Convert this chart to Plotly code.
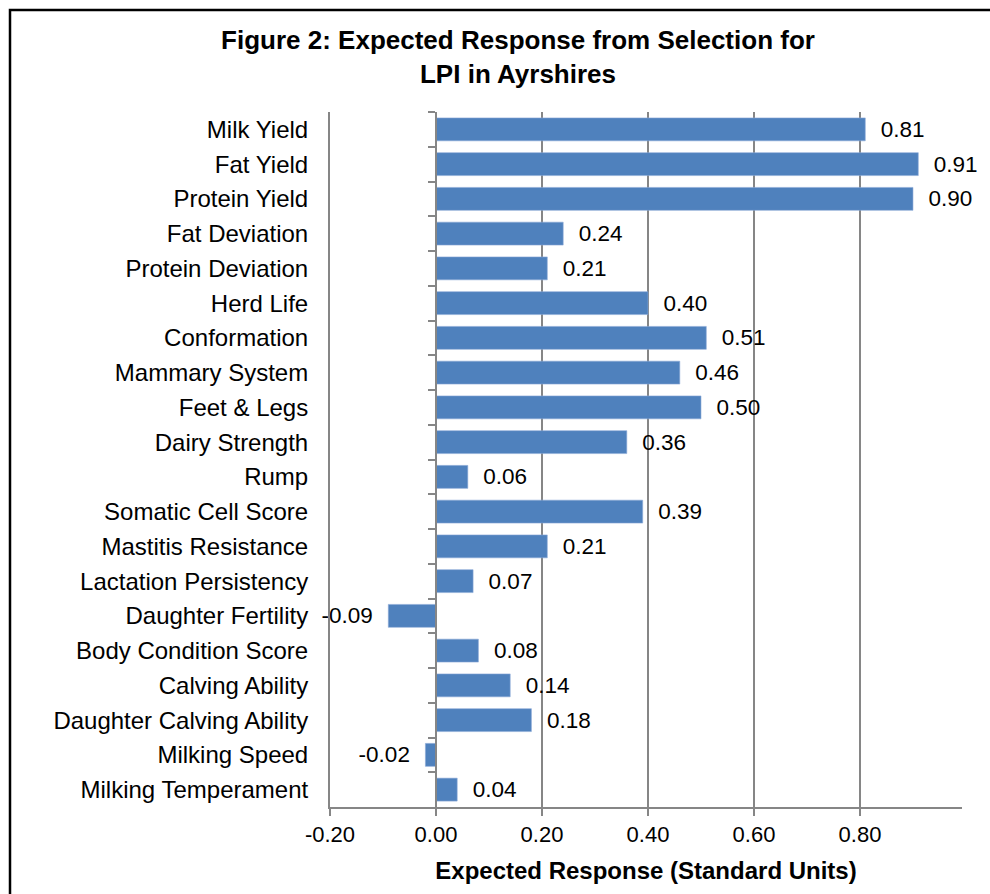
import plotly.graph_objects as go

categories = [
    "Milk Yield", "Fat Yield", "Protein Yield", "Fat Deviation", "Protein Deviation",
    "Herd Life", "Conformation", "Mammary System", "Feet & Legs", "Dairy Strength",
    "Rump", "Somatic Cell Score", "Mastitis Resistance", "Lactation Persistency",
    "Daughter Fertility", "Body Condition Score", "Calving Ability",
    "Daughter Calving Ability", "Milking Speed", "Milking Temperament",
]
values = [0.81, 0.91, 0.90, 0.24, 0.21, 0.40, 0.51, 0.46, 0.50, 0.36,
          0.06, 0.39, 0.21, 0.07, -0.09, 0.08, 0.14, 0.18, -0.02, 0.04]
tick_vals = [-0.2, 0.0, 0.2, 0.4, 0.6, 0.8]
tick_text = ["-0.20", "0.00", "0.20", "0.40", "0.60", "0.80"]

NB = "\u00a0"
labels = [(NB * 2 + f"{v:.2f}") if v >= 0 else (f"{v:.2f}" + NB * 2) for v in values]

FONT = "Liberation Sans, Arial, sans-serif"
GRID = "#868686"
BAR = "#4F81BD"

x_min, x_max = -0.2, 0.9925
zero_pos = (0 - x_min) / (x_max - x_min)
n = len(categories)
y_range = [n - 0.5, -0.5]

fig = go.Figure()
fig.add_trace(go.Bar(
    x=values, y=categories, orientation="h",
    marker=dict(color=BAR, line=dict(color="#8CAAD6", width=0.6)),
    width=0.66,
    text=labels, textposition="outside", cliponaxis=False, constraintext="none",
    textfont=dict(family=FONT, size=22.5, color="#000000"),
    hoverinfo="skip", showlegend=False,
))
# invisible helper trace to carry the category axis drawn at x = 0
fig.add_trace(go.Scatter(
    x=[0] * n, y=categories, yaxis="y2", mode="markers",
    marker=dict(opacity=0), hoverinfo="skip", showlegend=False,
))

fig.update_layout(
    width=990, height=894,
    paper_bgcolor="white", plot_bgcolor="white",
    margin=dict(l=330, r=28, t=112, b=87),
    font=dict(family=FONT, color="#000000"),
    title=dict(
        text="<b>Figure 2: Expected Response from Selection for</b><br><b>LPI in Ayrshires</b>",
        x=518 / 990, xanchor="center", xref="container",
        y=1 - 49 / 894, yanchor="top", yref="container",
        font=dict(family=FONT, size=26, color="#000000"),
    ),
    xaxis=dict(
        range=[x_min, x_max], tickvals=tick_vals, ticktext=tick_text,
        showgrid=True, gridcolor=GRID, gridwidth=1.5, zeroline=False,
        showline=True, linecolor=GRID, linewidth=2,
        ticks="outside", ticklen=7, tickcolor=GRID, tickwidth=1.5,
        tickfont=dict(family=FONT, size=22, color="#000000"),
        title=dict(text="<b>Expected Response (Standard Units)</b>",
                   font=dict(family=FONT, size=24, color="#000000"), standoff=16),
        fixedrange=True,
    ),
    yaxis=dict(
        categoryorder="array", categoryarray=categories, range=y_range,
        showgrid=False, zeroline=False,
        showline=True, linecolor=GRID, linewidth=2,
        ticks="", ticklabelstandoff=15,
        tickfont=dict(family=FONT, size=24, color="#000000"),
        fixedrange=True,
    ),
    yaxis2=dict(
        overlaying="y", anchor="free", position=zero_pos, side="left",
        categoryorder="array", categoryarray=categories, range=y_range,
        showgrid=False, zeroline=False, showticklabels=False,
        showline=True, linecolor=GRID, linewidth=2,
        ticks="outside", tickson="boundaries", ticklen=7, tickcolor=GRID, tickwidth=1.5,
        fixedrange=True,
    ),
    bargap=0.34,
    shapes=[dict(
        type="rect", xref="paper", yref="paper",
        x0=(10 - 330) / 632, x1=1.3, y0=-0.3, y1=(807 - 10) / 695,
        line=dict(color="#000000", width=2.5), fillcolor="rgba(0,0,0,0)", layer="below",
    )],
)

fig.write_html("out.html")
